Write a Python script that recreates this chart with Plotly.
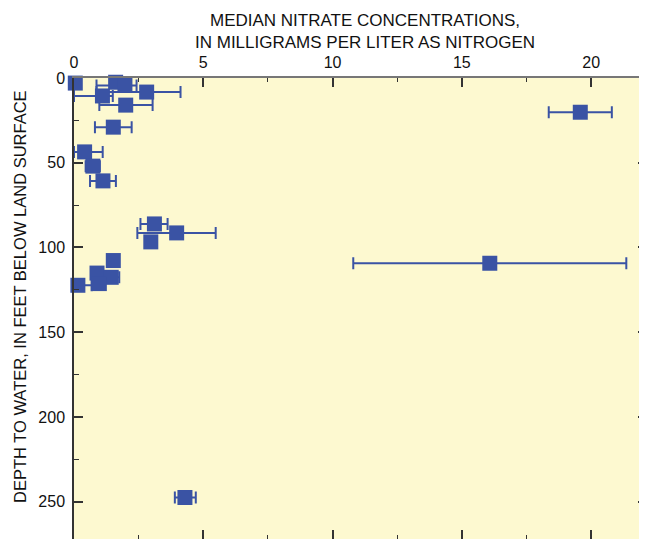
import plotly.graph_objects as go

# Median nitrate (mg/L as N), depth to water (ft), and low/high range of each error bar
nitrate = [0.05, 1.61, 1.97, 2.81, 1.10, 2.00, 1.52, 19.58, 0.41, 0.73, 1.12,
           3.11, 3.97, 2.97, 1.52, 16.08, 0.89, 1.44, 0.98, 0.15, 4.29]
depth = [3.0, 2.5, 4.4, 8.3, 10.6, 16.0, 29.0, 20.2, 43.6, 52.0, 60.7,
         86.1, 91.4, 96.7, 107.7, 109.3, 115.1, 117.6, 121.3, 122.3, 247.5]
range_low = [0.05, 1.61, 0.87, 0.87, 0.0, 0.98, 0.81, 18.36, 0.0, 0.45, 0.62,
             2.57, 2.45, 2.97, 1.52, 10.80, 0.89, 1.20, 0.98, 0.0, 3.90]
range_high = [0.05, 1.61, 2.42, 4.12, 1.50, 3.04, 2.23, 20.80, 1.11, 1.00, 1.62,
              3.62, 5.48, 2.97, 1.52, 21.36, 0.89, 1.75, 0.98, 0.68, 4.71]

x_ticks = [0, 5, 10, 15, 20]
y_ticks = [0, 50, 100, 150, 200, 250]

BLUE = "#3a53a4"
BG = "#fdf9d0"

err_plus = [h - m for h, m in zip(range_high, nitrate)]
err_minus = [m - l for m, l in zip(nitrate, range_low)]

fig = go.Figure()
fig.add_trace(go.Scatter(
    x=nitrate, y=depth, mode="markers",
    marker=dict(symbol="square", size=15, color=BLUE, line=dict(width=0)),
    error_x=dict(type="data", symmetric=False, array=err_plus, arrayminus=err_minus,
                 color=BLUE, thickness=2, width=6),
    cliponaxis=False,
    showlegend=False,
))

OFF = 8  # page body margin
W, H = 647 - OFF, 539 - OFF
L, T = 74 - OFF, 78 - OFF
fig.update_layout(
    width=W, height=H,
    margin=dict(l=L, r=0, t=T, b=0, pad=0, autoexpand=False),
    paper_bgcolor="white",
    plot_bgcolor=BG,
    font=dict(family="Liberation Sans, Arial, sans-serif", size=16, color="#111"),
    xaxis=dict(
        side="top", range=[0, 22.16], tickvals=x_ticks, ticktext=[str(v) for v in x_ticks],
        ticks="inside", ticklen=9, tickwidth=1.5, tickcolor="#333",
        minor=dict(dtick=2.5, ticks="inside", ticklen=4, tickwidth=1, tickcolor="#333"),
        showline=True, linecolor="#777", linewidth=2, mirror="ticks",
        showgrid=False, zeroline=False, ticklabelstandoff=2, automargin=False,
        tickfont=dict(size=16),
    ),
    yaxis=dict(
        range=[272, 0], tickvals=y_ticks, ticktext=[str(v) for v in y_ticks],
        ticks="inside", ticklen=9, tickwidth=1.5, tickcolor="#333",
        minor=dict(dtick=25, ticks="inside", ticklen=5, tickwidth=1, tickcolor="#333"),
        showline=True, linecolor="#333", linewidth=1.5, mirror="ticks",
        showgrid=False, zeroline=False, ticklabelstandoff=4, automargin=False,
        tickfont=dict(size=16),
    ),
    annotations=[
        dict(text="MEDIAN NITRATE CONCENTRATIONS,<br>IN MILLIGRAMS PER LITER AS NITROGEN",
             xref="paper", yref="paper", x=(365 - 74) / (W - L), y=1 + (78 - 31) / (H - T),
             xanchor="center", yanchor="middle", showarrow=False,
             font=dict(size=17), align="center"),
        dict(text="DEPTH TO WATER, IN FEET BELOW LAND SURFACE",
             xref="paper", yref="paper", x=-(74 - 20) / (W - L), y=1 - (297 - 78) / (H - T),
             xanchor="center", yanchor="middle", textangle=-90, showarrow=False,
             font=dict(size=16.5)),
    ],
)

fig.write_html("out.html")
